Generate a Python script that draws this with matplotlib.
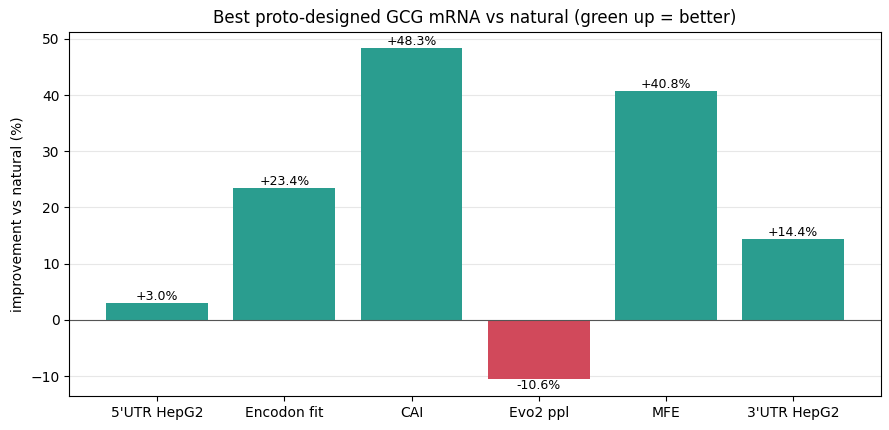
import matplotlib
matplotlib.use("Agg")
import matplotlib.pyplot as plt

metrics = ["5'UTR HepG2", "Encodon fit", "CAI", "Evo2 ppl", "MFE", "3'UTR HepG2"]
improvement = [3.0, 23.4, 48.3, -10.6, 40.8, 14.4]

colors = ["#2a9d8f" if v >= 0 else "#d1495b" for v in improvement]

fig, ax = plt.subplots(figsize=(8.89, 4.3), dpi=100)
fig.subplots_adjust(left=0.078, right=0.991, top=0.926, bottom=0.079)

bars = ax.bar(metrics, improvement, color=colors)
ax.axhline(0, color="#555555", linewidth=0.8)
ax.grid(axis="y", alpha=0.3)
ax.set_axisbelow(True)

for b, v in zip(bars, improvement):
    x = b.get_x() + b.get_width() / 2
    if v >= 0:
        ax.text(x, v, f"+{v:.1f}%", ha="center", va="bottom", fontsize=9)
    else:
        ax.text(x, v, f"{v:.1f}%", ha="center", va="top", fontsize=9)

ax.set_ylabel("improvement vs natural (%)")
ax.set_title("Best proto-designed GCG mRNA vs natural (green up = better)")

fig.savefig("out.png", dpi=100)
